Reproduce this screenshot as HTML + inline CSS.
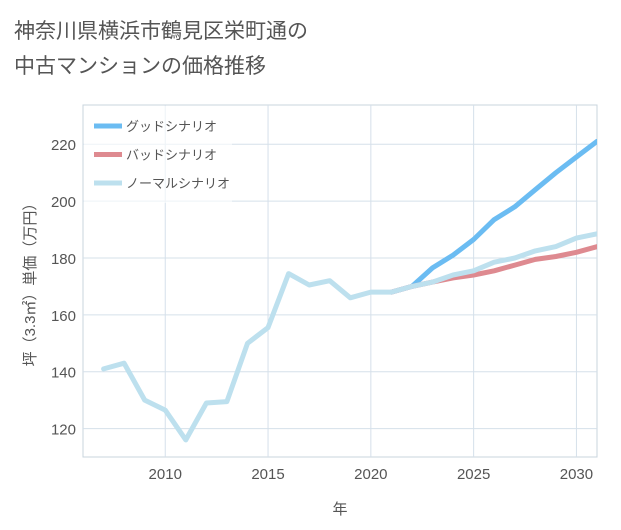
<!DOCTYPE html>
<html><head><meta charset="utf-8"><style>
body{margin:0;background:#fff;}
#wrap{position:relative;width:621px;height:530px;background:#fff;font-family:"Liberation Sans","Noto Sans CJK JP",sans-serif;}
#title{position:absolute;left:14px;top:14px;font-size:21px;line-height:35px;color:#555;}
svg text{font-family:"Liberation Sans","Noto Sans CJK JP",sans-serif;}
</style></head><body>
<div id="wrap">
<div id="title">神奈川県横浜市鶴見区栄町通の<br>中古マンションの価格推移</div>
<svg id="chart" width="621" height="530" style="position:absolute;left:0;top:0"></svg>
</div>
<script>
const years=[2007,2008,2009,2010,2011,2012,2013,2014,2015,2016,2017,2018,2019,2020,2021,2022,2023,2024,2025,2026,2027,2028,2029,2030,2031];
const normalValues=[141,143,130,126.5,116,129,129.5,150,155.5,174.5,170.5,172,166,168,168,170,171.5,174,175.5,178.5,180,182.5,184,187,188.5];
const futureYears=[2021,2022,2023,2024,2025,2026,2027,2028,2029,2030,2031];
const goodValues=[168,170,176.5,181,186.5,193.5,198,204,210,215.5,221];
const badValues=[168,170,171.5,173,174,175.5,177.5,179.5,180.5,182,184];
const xTicks=[2010,2015,2020,2025,2030];
const yTicks=[120,140,160,180,200,220];
const legendLabels=["グッドシナリオ","バッドシナリオ","ノーマルシナリオ"];

const L=83,R=597,T=105,B=457;
const X0=2006,X1=2031,Y0=110,Y1=233.8;
const sx=v=>L+(v-X0)/(X1-X0)*(R-L);
const sy=v=>B-(v-Y0)/(Y1-Y0)*(B-T);
const NS="http://www.w3.org/2000/svg";
const svg=document.getElementById('chart');
function mk(tag,attrs,parent){const e=document.createElementNS(NS,tag);for(const k in attrs)e.setAttribute(k,attrs[k]);(parent||svg).appendChild(e);return e;}

const plotBg=mk('rect',{x:L,y:T,width:R-L,height:B-T,fill:'#fff',stroke:'#c8d4de','stroke-width':1});


xTicks.forEach(t=>{
  const g=mk('line',{x1:sx(t),x2:sx(t),y1:T,y2:B,stroke:'#d5e0ea','stroke-width':1});
  
  
  const tx=mk('text',{x:sx(t),y:B+22,'text-anchor':'middle','font-size':15,fill:'#555'});
  tx.textContent=t;
  
  
});
yTicks.forEach(t=>{
  const g=mk('line',{x1:L,x2:R,y1:sy(t),y2:sy(t),stroke:'#d5e0ea','stroke-width':1});
  
  
  const tx=mk('text',{x:L-7,y:sy(t)+6,'text-anchor':'end','font-size':15,fill:'#555'});
  tx.textContent=t;
  
  
});
const xt=mk('text',{x:(L+R)/2,y:514,'text-anchor':'middle','font-size':15,fill:'#555'});
xt.textContent='年';


const yt=mk('text',{x:0,y:0,'text-anchor':'middle','font-size':15,fill:'#555',transform:`translate(35,${(T+B)/2}) rotate(-90)`});
yt.textContent='坪（3.3㎡）単価（万円）';



function line(xs,vs,color,name){
  const d=xs.map((x,i)=>(i?'L':'M')+sx(x).toFixed(1)+' '+sy(vs[i]).toFixed(1)).join(' ');
  const p=mk('path',{d:d,fill:'none',stroke:color,'stroke-width':5,'stroke-linejoin':'round','stroke-linecap':'round'});
  
  
}
const clip=mk('clipPath',{id:'pc'});mk('rect',{x:L,y:T,width:R-L,height:B-T},clip);
line(futureYears,goodValues,'#6bbcf2','good-scenario-line');
line(futureYears,badValues,'#de8a90','bad-scenario-line');
line(years,normalValues,'#bde0ee','normal-scenario-line');
svg.querySelectorAll('path').forEach(p=>p.setAttribute('clip-path','url(#pc)'));

const lg=mk('rect',{x:L+1,y:T+1,width:148,height:97,fill:'#fff','fill-opacity':0.6});


const lc=['#6bbcf2','#de8a90','#bde0ee'];
legendLabels.forEach((s,i)=>{
  const y=126+i*28.5;
  const l=mk('line',{x1:94,x2:122,y1:y,y2:y,stroke:lc[i],'stroke-width':5});
  
  
  const t=mk('text',{x:126,y:y+5,'font-size':13,fill:'#555'});
  t.textContent=s;
  
  
});
</script>
</body></html>
